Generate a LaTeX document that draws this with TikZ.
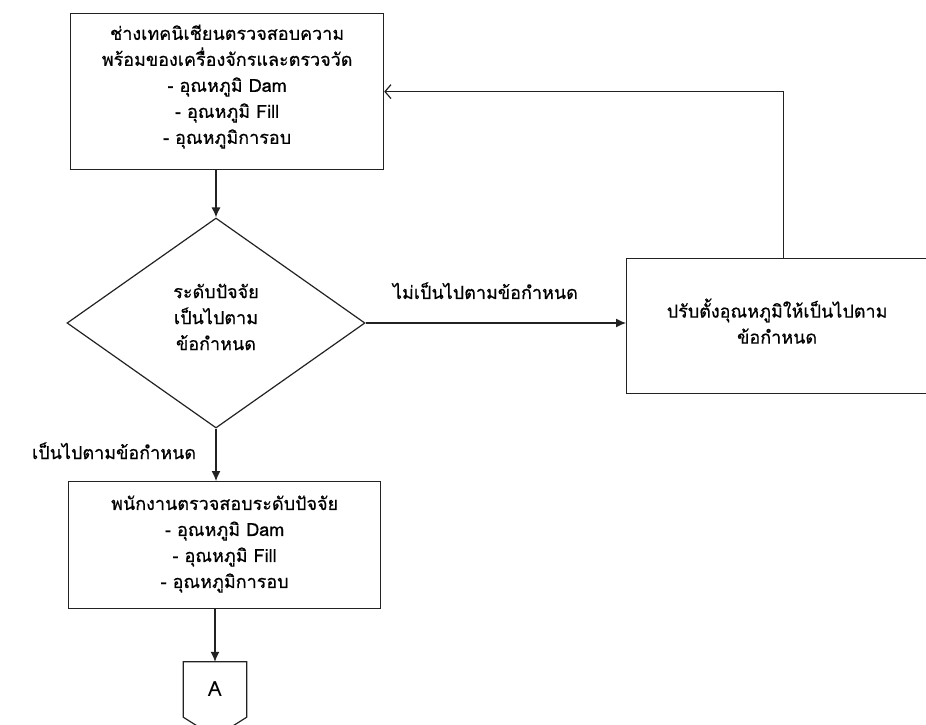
\documentclass[tikz,border=0pt]{standalone}
\usepackage{fontspec}
\newfontfamily\thaifont[Script=Thai,FakeBold=0.6]{Loma}
\newfontfamily\plainfont[Script=Thai]{Loma}
\usetikzlibrary{arrows.meta,shapes.geometric,calc}
\definecolor{linec}{HTML}{222222}

\begin{document}
\begin{tikzpicture}[x=1pt,y=-1pt,
  txt/.style={font=\thaifont\fontsize{18}{26}\selectfont, text=black},
  body/.style={txt, align=center, inner sep=0pt},
  box/.style={draw=linec, line width=1.2pt, inner sep=0pt},
  flow/.style={draw=linec, line width=1.2pt, -{Latex[length=10pt,width=9pt]}},
  back/.style={draw=linec, line width=1.2pt, -{Straight Barb[length=6pt,width=14pt,line width=1.2pt]}}]

  \useasboundingbox (0,0) rectangle (926,724);
  \clip (0,0) rectangle (926,724);

  % process boxes and decision
  \node[box, minimum width=313pt, minimum height=156pt, anchor=north west]
    (top) at (70,13) {};
  \node[body] (toptext) at ([yshift=5pt]top.center)
    {ช่างเทคนิเชียนตรวจสอบความ\\พร้อมของเครื่องจักรและตรวจวัด\\- อุณหภูมิ Dam\\- อุณหภูมิ Fill\\- อุณหภูมิการอบ};

  \node[box, shape=diamond, minimum width=298pt, minimum height=210pt]
    (dia) at (216,323) {};
  \node[body] (diatext) at ([yshift=6pt]dia.center)
    {ระดับปัจจัย\\เป็นไปตาม\\ข้อกำหนด};

  \node[box, minimum width=301pt, minimum height=135pt, anchor=north west]
    (adj) at (626,258) {};
  \node[body] (adjtext) at ([yshift=5pt]adj.center)
    {ปรับตั้งอุณหภูมิให้เป็นไปตาม\\ข้อกำหนด};

  \node[box, minimum width=312pt, minimum height=127pt, anchor=north west]
    (bot) at (68,481) {};
  \node[body] (bottext) at ([yshift=1pt]bot.center)
    {พนักงานตรวจสอบระดับปัจจัย\\- อุณหภูมิ Dam\\- อุณหภูมิ Fill\\- อุณหภูมิการอบ};

  % off-page connector
  \node[txt, font=\plainfont\fontsize{21}{26}\selectfont,
        minimum width=63pt, minimum height=55pt, inner sep=0pt]
    (offp) at (215,689.5) {A};
  \draw[draw=linec, line width=1.2pt]
    (offp.north west) -- (offp.north east) -- (offp.south east)
    -- ($(offp.south)+(0,20)$) -- (offp.south west) -- cycle;

  % connectors
  \draw[flow] (top.south -| dia.north) -- (dia.north);
  \draw[flow] (dia.east) -- (adj.west |- dia.east)
    node[txt, pos=0.46, above=20pt] {ไม่เป็นไปตามข้อกำหนด};
  \draw[flow] (dia.south) -- (bot.north -| dia.south)
    node[txt, midway, left=16pt, yshift=4pt] {เป็นไปตามข้อกำหนด};
  \draw[back] ([xshift=6pt]adj.north) |- (top.east);
  \draw[flow] (bot.south -| offp.north) -- (offp.north);
\end{tikzpicture}
\end{document}
